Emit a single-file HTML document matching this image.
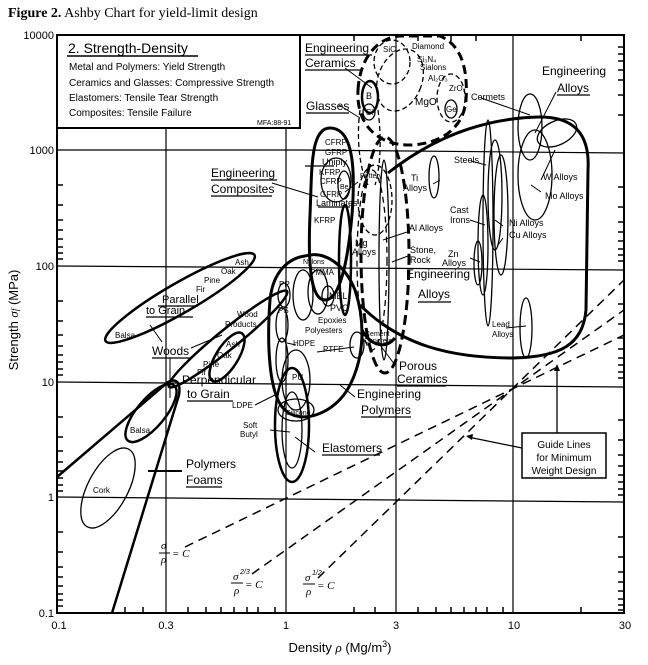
<!DOCTYPE html>
<html><head><meta charset="utf-8"><style>
html,body{margin:0;padding:0;background:#fff}
svg{display:block}
text{font-family:"Liberation Sans",sans-serif;fill:#000}
</style></head><body>
<svg width="648" height="665" viewBox="0 0 648 665" xmlns="http://www.w3.org/2000/svg">
<text x="8" y="17" style="font-family:'Liberation Serif',serif;font-size:14px"><tspan font-weight="bold">Figure 2.</tspan>  Ashby Chart for yield-limit design</text>
<g stroke="#000" fill="none">
<rect x="57" y="35" width="567" height="578" stroke-width="2"/>
<g stroke-width="1.2">
<line x1="300" y1="150" x2="624" y2="153"/>
<line x1="57" y1="150" x2="300" y2="150"/>
<line x1="57" y1="266" x2="624" y2="270"/>
<line x1="57" y1="382" x2="624" y2="387"/>
<line x1="57" y1="497" x2="624" y2="502"/>
<line x1="166" y1="128" x2="166" y2="613"/>
<line x1="286" y1="35" x2="286" y2="613"/>
<line x1="396" y1="35" x2="396" y2="613"/>
<line x1="513" y1="35" x2="513" y2="613"/>
</g>
<g stroke-width="1.5">
<path d="M57 115h6M57 95h6M57 80h6M57 70h6M57 61h6M57 54h6M57 47h6M57 41h6
M57 185h6M57 205h6M57 220h6M57 230h6M57 239h6M57 247h6M57 253h6M57 259h6
M57 301h6M57 321h6M57 335h6M57 346h6M57 355h6M57 362h6M57 369h6M57 375h6
M57 417h6M57 437h6M57 451h6M57 462h6M57 471h6M57 478h6M57 485h6M57 491h6
M57 532h6M57 552h6M57 567h6M57 577h6M57 586h6M57 594h6M57 600h6M57 606h6"/>
<path d="M624 115h-6M624 95h-6M624 80h-6M624 70h-6M624 61h-6M624 54h-6M624 47h-6
M624 187h-6M624 207h-6M624 222h-6M624 232h-6M624 241h-6M624 249h-6M624 255h-6M624 261h-6
M624 304h-6M624 324h-6M624 338h-6M624 349h-6M624 358h-6M624 365h-6M624 372h-6M624 378h-6
M624 420h-6M624 440h-6M624 455h-6M624 466h-6M624 475h-6M624 482h-6M624 489h-6M624 495h-6
M624 537h-6M624 557h-6M624 572h-6M624 582h-6M624 591h-6M624 599h-6M624 605h-6M624 610h-6"/>
<path d="M125 613v-6M143 613v-6M188 613v-6M206 613v-6M221 613v-6M234 613v-6M247 613v-6M258 613v-6M275 613v-6
M354 613v-6M375 613v-6M418 613v-6M436 613v-6M451 613v-6M464 613v-6M476 613v-6M487 613v-6M503 613v-6M581 613v-6
M125 35v6M188 35v6M221 35v6M247 35v6M354 35v6M418 35v6M451 35v6M476 35v6M581 35v6"/>
</g>
<rect x="57" y="35" width="243" height="93" fill="#fff" stroke-width="2"/>
</g>
<text x="68" y="53" font-size="14">2. Strength-Density</text>
<line x1="67" y1="56" x2="198" y2="56" stroke="#000" stroke-width="1.5"/>
<g font-size="10">
<text x="69" y="70">Metal and Polymers: Yield Strength</text>
<text x="69" y="86">Ceramics and Glasses: Compressive Strength</text>
<text x="69" y="101">Elastomers: Tensile Tear Strength</text>
<text x="69" y="116">Composites: Tensile Failure</text>
</g>
<text x="257" y="125" font-size="7">MFA:88-91</text>

<g font-size="11" text-anchor="end">
<text x="54" y="39">10000</text><text x="54" y="154">1000</text><text x="54" y="270">100</text>
<text x="54" y="386">10</text><text x="54" y="501">1</text><text x="54" y="617">0.1</text>
</g>
<g font-size="11" text-anchor="middle">
<text x="59" y="629">0.1</text><text x="166" y="629">0.3</text><text x="286" y="629">1</text>
<text x="396" y="629">3</text><text x="514" y="629">10</text><text x="625" y="629">30</text>
</g>
<text x="340" y="652" font-size="13" text-anchor="middle">Density <tspan font-style="italic" font-family="Liberation Serif">ρ</tspan> (Mg/m<tspan font-size="9" dy="-5">3</tspan><tspan dy="5">)</tspan></text>
<text transform="translate(18,320) rotate(-90)" font-size="13" text-anchor="middle">Strength <tspan font-style="italic" font-family="Liberation Serif">σ<tspan font-size="9">f</tspan></tspan> (MPa)</text>

<g stroke="#000" fill="none">
<path d="M358 90 C360 55 380 37 400 36 L440 36 C462 45 468 70 466 100 C464 125 445 143 412 145 C378 146 356 125 358 90Z" stroke-width="3" stroke-dasharray="9 5"/>
<ellipse cx="400" cy="80" rx="22" ry="32" stroke-width="1.3" stroke-dasharray="5 3" transform="rotate(20 400 80)"/>
<ellipse cx="392" cy="62" rx="18" ry="22" stroke-width="1.3" stroke-dasharray="5 3"/>
<ellipse cx="451" cy="98" rx="14" ry="24" stroke-width="1.3" stroke-dasharray="5 3"/>
<ellipse cx="451" cy="109" rx="6" ry="9" stroke-width="1.3"/>
<ellipse cx="370" cy="97" rx="8" ry="16" stroke-width="2.5"/>
<ellipse cx="369" cy="112" rx="6" ry="8" stroke-width="1.3"/>
<path d="M360 110 C356 140 360 170 368 185 M378 110 C382 140 380 170 375 185" stroke-width="1.3" stroke-dasharray="5 3"/>
<path d="M388 173 C430 140 480 118 540 117 C575 117 590 135 588 170 L586 310 C583 345 560 357 513 358 C450 358 400 345 360 305" stroke-width="3"/>
<ellipse cx="530" cy="127" rx="12" ry="33" stroke-width="1.3"/>
<ellipse cx="557" cy="133" rx="21" ry="12" stroke-width="1.3" transform="rotate(-25 557 133)"/>
<ellipse cx="535" cy="175" rx="17" ry="45" stroke-width="1.3"/>
<ellipse cx="434" cy="177" rx="5" ry="21" stroke-width="1.3"/>
<ellipse cx="488" cy="223" rx="5" ry="103" stroke-width="1.3"/>
<ellipse cx="495" cy="195" rx="7" ry="55" stroke-width="1.3"/>
<ellipse cx="501" cy="215" rx="7" ry="60" stroke-width="1.3"/>
<ellipse cx="483" cy="245" rx="5" ry="50" stroke-width="1.3"/>
<ellipse cx="478" cy="263" rx="4" ry="22" stroke-width="1.3"/>
<ellipse cx="526" cy="328" rx="6" ry="30" stroke-width="1.3"/>
<path d="M330 128 C355 128 355 175 352 215 C348 260 340 300 325 300 C310 300 308 260 310 215 C312 170 310 128 330 128Z" stroke-width="3"/>
<ellipse cx="336" cy="180" rx="15" ry="22" stroke-width="1.3"/>
<ellipse cx="344" cy="185" rx="6" ry="14" stroke-width="1.3"/>
<ellipse cx="345" cy="260" rx="6" ry="55" stroke-width="2.5"/>
<ellipse cx="385" cy="255" rx="24" ry="118" stroke-width="3" stroke-dasharray="10 5"/>
<ellipse cx="375" cy="200" rx="17" ry="35" stroke-width="1.3" stroke-dasharray="5 3"/>
<ellipse cx="372" cy="260" rx="15" ry="90" stroke-width="1.3" stroke-dasharray="6 4"/>
<ellipse cx="384" cy="260" rx="5" ry="100" stroke-width="1.3"/>
<path d="M362 330 C370 345 385 350 395 338" stroke-width="3"/>
<path d="M305 256 C325 250 345 265 355 290 C365 320 365 355 350 385 C335 415 300 425 285 410 C268 395 267 340 270 300 C273 270 290 258 305 256Z" stroke-width="3"/>
<ellipse cx="303" cy="295" rx="10" ry="25" stroke-width="1.3"/>
<ellipse cx="318" cy="292" rx="10" ry="22" stroke-width="1.3"/>
<ellipse cx="328" cy="296" rx="6" ry="10" stroke-width="1.3"/>
<ellipse cx="284" cy="295" rx="6" ry="12" stroke-width="1.3"/>
<ellipse cx="282" cy="325" rx="6" ry="17" stroke-width="1.3"/>
<ellipse cx="282" cy="360" rx="6" ry="22" stroke-width="1.3"/>
<ellipse cx="296" cy="380" rx="14" ry="30" stroke-width="1.3"/>
<ellipse cx="357" cy="345" rx="7" ry="13" stroke-width="1.3"/>
<ellipse cx="296" cy="410" rx="18" ry="11" stroke-width="1.3"/>
<ellipse cx="292" cy="425" rx="17" ry="57" stroke-width="2.5"/>
<ellipse cx="292" cy="430" rx="10" ry="38" stroke-width="1.3"/>
<!-- woods -->
<ellipse cx="180" cy="298" rx="86" ry="15" stroke-width="2.5" transform="rotate(-30 180 298)"/>
<ellipse cx="228" cy="339" rx="76" ry="10" stroke-width="2.5" transform="rotate(-39 228 339)"/>
<ellipse cx="227" cy="357" rx="28" ry="11" stroke-width="2.5" transform="rotate(-58 227 357)"/>
<path d="M57 477 L168 382 C176 378 181 382 179 395 L112 613" stroke-width="2.5"/>
<ellipse cx="151" cy="413" rx="36" ry="14" stroke-width="2.5" transform="rotate(-50 151 413)"/>
<ellipse cx="108" cy="488" rx="44" ry="20" stroke-width="1.3" transform="rotate(-62 108 488)"/>
<g stroke-width="1.5" stroke-dasharray="9 6">
<line x1="185" y1="547" x2="624" y2="335"/>
<line x1="252" y1="574" x2="624" y2="310"/>
<line x1="318" y1="578" x2="624" y2="280"/>
</g>
<rect x="522" y="433" width="84" height="45" stroke-width="1.5" fill="#fff"/>
<path d="M557 433 V371 M522 448 L468 437" stroke-width="1.3"/>
<path d="M345 68 L372 88 M339 105 L360 118 M272 183 L318 197 M481 98 L530 115 M556 92 L535 133 M358 182 L345 192 M350 230 L348 250 M407 232 L383 240 M408 256 L392 262 M433 184 L440 180 M471 161 L486 165 M470 220 L485 225 M503 226 L495 220 M503 238 L498 245 M470 258 L480 262 M506 328 L526 326 M541 180 L555 150 M541 192 L531 185 M395 365 L380 345 M355 397 L340 385 M315 452 L295 437 M270 430 L290 432 M255 405 L275 395 M317 352 L354 347 M287 343 L296 345 M150 325 L162 342 M191 348 L222 335 M170 358 L170 398" stroke-width="1"/>
<path d="M560 371 l-3 -7 -3 7z M466 436 l7 -2 -1 6z" fill="#000" stroke="none"/>
</g>

<g font-size="12">
<text x="305" y="52">Engineering</text><text x="305" y="67">Ceramics</text>
<text x="306" y="110">Glasses</text>
<text x="542" y="75">Engineering</text><text x="557" y="92">Alloys</text>
<text x="211" y="177">Engineering</text><text x="211" y="193">Composites</text>
<text x="406" y="278">Engineering</text><text x="418" y="298">Alloys</text>
<text x="162" y="303" font-size="11">Parallel</text><text x="146" y="314" font-size="11">to Grain</text>
<text x="152" y="355">Woods</text>
<text x="182" y="384">Perpendicular</text><text x="187" y="398">to Grain</text>
<text x="186" y="468">Polymers</text><text x="186" y="484">Foams</text>
<text x="399" y="370">Porous</text><text x="397" y="383">Ceramics</text>
<text x="357" y="398">Engineering</text><text x="361" y="414">Polymers</text>
<text x="322" y="452">Elastomers</text>
</g>
<g stroke="#000" stroke-width="1.2">
<line x1="305" y1="55" x2="372" y2="55"/><line x1="305" y1="70" x2="360" y2="70"/>
<line x1="306" y1="113" x2="349" y2="113"/><line x1="557" y1="95" x2="590" y2="95"/>
<line x1="211" y1="180" x2="277" y2="180"/><line x1="211" y1="196" x2="272" y2="196"/>
<line x1="418" y1="302" x2="451" y2="302"/><line x1="158" y1="306" x2="198" y2="306"/>
<line x1="146" y1="317" x2="193" y2="317"/><line x1="152" y1="358" x2="191" y2="358"/>
<line x1="187" y1="401" x2="233" y2="401"/><line x1="186" y1="487" x2="222" y2="487"/>
<line x1="148" y1="471" x2="182" y2="471" stroke-width="2"/>
<line x1="397" y1="386" x2="446" y2="386"/><line x1="361" y1="417" x2="411" y2="417"/>
<line x1="322" y1="455" x2="380" y2="455"/><line x1="305" y1="166" x2="334" y2="166"/>
<line x1="318" y1="207" x2="350" y2="207"/>
</g>
<g font-size="8">
<text x="383" y="52">SiC</text><text x="412" y="49">Diamond</text>
<text x="417" y="62">Si₃N₄</text><text x="420" y="70">Sialons</text><text x="428" y="81">Al₂O₃</text>
<text x="449" y="91">ZrO₂</text><text x="415" y="105" font-size="10">MgO</text><text x="446" y="112">Ge</text>
<text x="366" y="99" font-size="9">B</text><text x="366" y="115">Si</text>
<text x="471" y="100" font-size="9">Cermets</text>
<text x="325" y="145">CFRP</text><text x="325" y="155">GFRP</text><text x="322" y="165" font-size="9">Uniply</text>
<text x="319" y="175">KFRP</text><text x="320" y="184">CFRP</text><text x="340" y="189" font-size="7">Be</text>
<text x="320" y="197">GFRP</text><text x="316" y="206" font-size="9">Laminates</text>
<text x="314" y="223">KFRP</text>
<text x="360" y="178" font-size="7">Pottery</text>
<text x="411" y="181" font-size="9">Ti</text><text x="403" y="191" font-size="9">Alloys</text>
<text x="454" y="163" font-size="9">Steels</text>
<text x="543" y="180" font-size="9">W Alloys</text><text x="545" y="199" font-size="9">Mo Alloys</text>
<text x="450" y="213" font-size="9">Cast</text><text x="450" y="223" font-size="9">Irons</text>
<text x="409" y="231" font-size="9">Al Alloys</text>
<text x="509" y="226" font-size="9">Ni Alloys</text><text x="509" y="238" font-size="9">Cu Alloys</text>
<text x="355" y="246" font-size="9">Mg</text><text x="352" y="255" font-size="9">Alloys</text>
<text x="410" y="253" font-size="9">Stone,</text><text x="410" y="263" font-size="9">Rock</text>
<text x="448" y="257" font-size="9">Zn</text><text x="442" y="266" font-size="9">Alloys</text>
<text x="492" y="327">Lead</text><text x="492" y="337">Alloys</text>
<text x="303" y="264" font-size="7">Nylons</text><text x="310" y="275">PMMA</text>
<text x="329" y="299" font-size="9">MEL</text><text x="330" y="311" font-size="9">PVC</text>
<text x="318" y="323">Epoxies</text><text x="305" y="333">Polyesters</text>
<text x="279" y="287">PP</text><text x="278" y="313">PS</text>
<text x="293" y="346">HDPE</text><text x="323" y="352">PTFE</text>
<text x="365" y="336" font-size="7">Cement</text><text x="364" y="343" font-size="7">Concrete</text>
<text x="292" y="380">PU</text><text x="232" y="408">LDPE</text><text x="286" y="415" font-size="7">Silicone</text>
<text x="243" y="428">Soft</text><text x="240" y="437">Butyl</text>
<text x="235" y="265">Ash</text><text x="221" y="274">Oak</text><text x="204" y="283">Pine</text><text x="196" y="292">Fir</text>
<text x="115" y="338">Balsa</text>
<text x="237" y="317">Wood</text><text x="225" y="327">Products</text>
<text x="226" y="347">Ash</text><text x="217" y="358">Oak</text><text x="203" y="367">Pine</text><text x="197" y="375">Fir</text>
<text x="130" y="433">Balsa</text><text x="93" y="493">Cork</text>
</g>
<g font-size="10" text-anchor="middle">
<text x="564" y="448">Guide Lines</text><text x="564" y="461">for Minimum</text><text x="564" y="474">Weight Design</text>
</g>
<g font-size="11" font-style="italic" style="font-family:'Liberation Serif',serif">
<text x="161" y="549" style="font-family:'Liberation Serif',serif">σ</text><text x="161" y="563" style="font-family:'Liberation Serif',serif">ρ</text>
<line x1="159" y1="553" x2="170" y2="553" stroke="#000"/>
<text x="172" y="557" style="font-family:'Liberation Serif',serif">= C</text>
<text x="233" y="580" style="font-family:'Liberation Serif',serif">σ</text><text x="240" y="574" font-size="7">2/3</text><text x="234" y="594" style="font-family:'Liberation Serif',serif">ρ</text>
<line x1="231" y1="583" x2="243" y2="583" stroke="#000"/>
<text x="245" y="588" style="font-family:'Liberation Serif',serif">= C</text>
<text x="305" y="581" style="font-family:'Liberation Serif',serif">σ</text><text x="312" y="575" font-size="7">1/2</text><text x="306" y="595" style="font-family:'Liberation Serif',serif">ρ</text>
<line x1="303" y1="584" x2="315" y2="584" stroke="#000"/>
<text x="317" y="589" style="font-family:'Liberation Serif',serif">= C</text>
</g>
</svg>
</body></html>
